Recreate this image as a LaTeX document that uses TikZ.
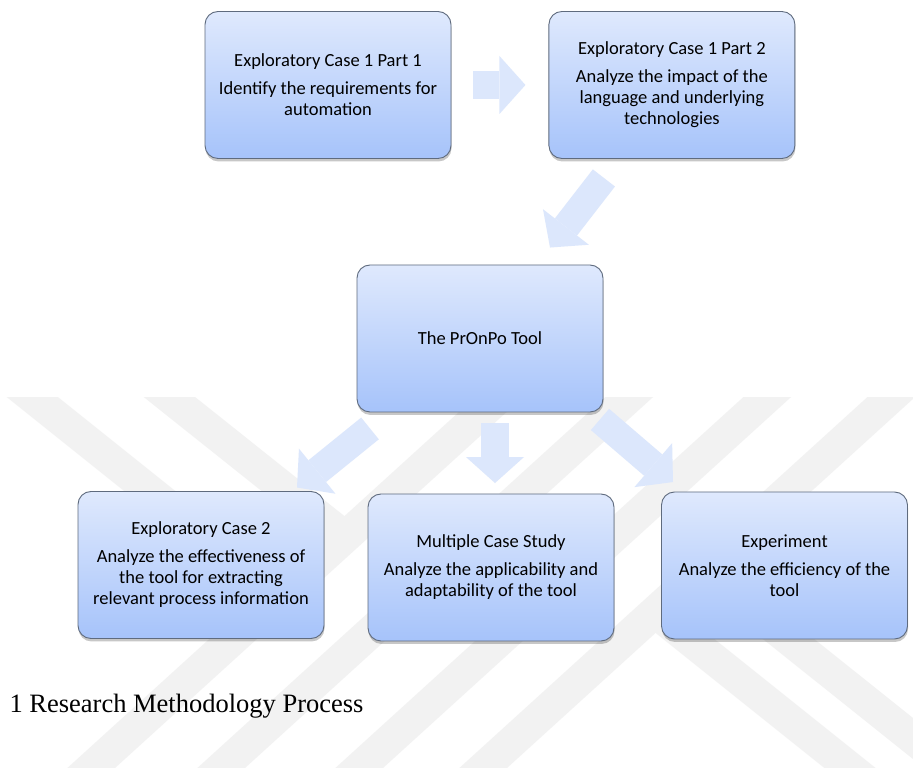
\documentclass[tikz,border=0pt]{standalone}
\usepackage{fontspec}
\setmainfont{Carlito}
\newfontfamily\capfont{Liberation Serif}
\usetikzlibrary{positioning,shadows,arrows.meta}

\definecolor{boxtop}{HTML}{DFE9FD}
\definecolor{boxbot}{HTML}{A6C3FA}
\definecolor{boxline}{HTML}{5F6B7E}
\definecolor{arrowfill}{HTML}{DCE7FC}
\definecolor{wmgray}{HTML}{F2F2F2}

\tikzset{
  stage/.style={rectangle, rounded corners=13pt, draw=boxline, line width=0.9pt,
    top color=boxtop, bottom color=boxbot, minimum width=246pt, minimum height=147pt,
    align=center, font=\fontsize{18.5}{21}\selectfont,
    drop shadow={shadow xshift=0.5pt, shadow yshift=-3pt, fill=black, opacity=0.22}},
  flow/.style={line width=28pt, draw=arrowfill, -{Triangle[length=26pt,width=58pt,line width=0pt]}},
  stripe/.style={line width=32pt, draw=wmgray},
}

\begin{document}
\begin{tikzpicture}[x=1pt,y=1pt]
    \fill[white] (0,0) rectangle (913,768);
    \useasboundingbox (0,0) rectangle (913,768);

    % watermark
    \begin{scope}
    \clip (0,0) rectangle (913,370);
    \foreach \sx in {529,659,797,921}
        \draw[stripe] (\sx,398) -- (\sx-473,-32);
    \draw[stripe] (-1.5,398) -- (281,172);
    \draw[stripe] (135.5,398) -- (345,231);
    \draw[stripe] (655,156) -- (890,-32);
    \draw[stripe] (701.5,198.5) -- (990,-32);
    \end{scope}

    \node[stage] (ec1a) at (328,683) {Exploratory Case 1 Part 1\\[7pt]Identify the requirements for\\automation};
    \node[stage,right=97pt of ec1a] (ec1b) {Exploratory Case 1 Part 2\\[7pt]Analyze the impact of the\\language and underlying\\technologies};
    \node[stage] (tool) at (480,429.5) {The PrOnPo Tool};
    \node[stage] (ec2) at (201,203) {Exploratory Case 2\\[7pt]Analyze the effectiveness of\\the tool for extracting\\relevant process information};
    \node[stage] (mcs) at (491,200.5) {Multiple Case Study\\[7pt]Analyze the applicability and\\adaptability of the tool};
    \node[stage] (expt) at (784.5,202.5) {Experiment\\[7pt]Analyze the efficiency of the\\tool};
    \node[anchor=base west,font=\capfont\fontsize{26.5}{30}\selectfont] (caption) at (6,55) {1 Research Methodology Process};

    \draw[flow] ([xshift=22pt]ec1a.east) -- ([xshift=-23pt]ec1b.west);
    \draw[flow] ([shift={(-68pt,-19pt)}]ec1b.south) -- ([shift={(70pt,17pt)}]tool.north);
    \draw[flow] ([shift={(-110pt,-16pt)}]tool.south) -- ([shift={(96pt,3.5pt)}]ec2.north);
    \draw[flow] ([shift={(15pt,-11pt)}]tool.south) -- ([shift={(4pt,10.5pt)}]mcs.north);
    \draw[flow] ([shift={(120pt,-7pt)}]tool.south) -- ([shift={(-111.5pt,9.5pt)}]expt.north);
\end{tikzpicture}
\end{document}
